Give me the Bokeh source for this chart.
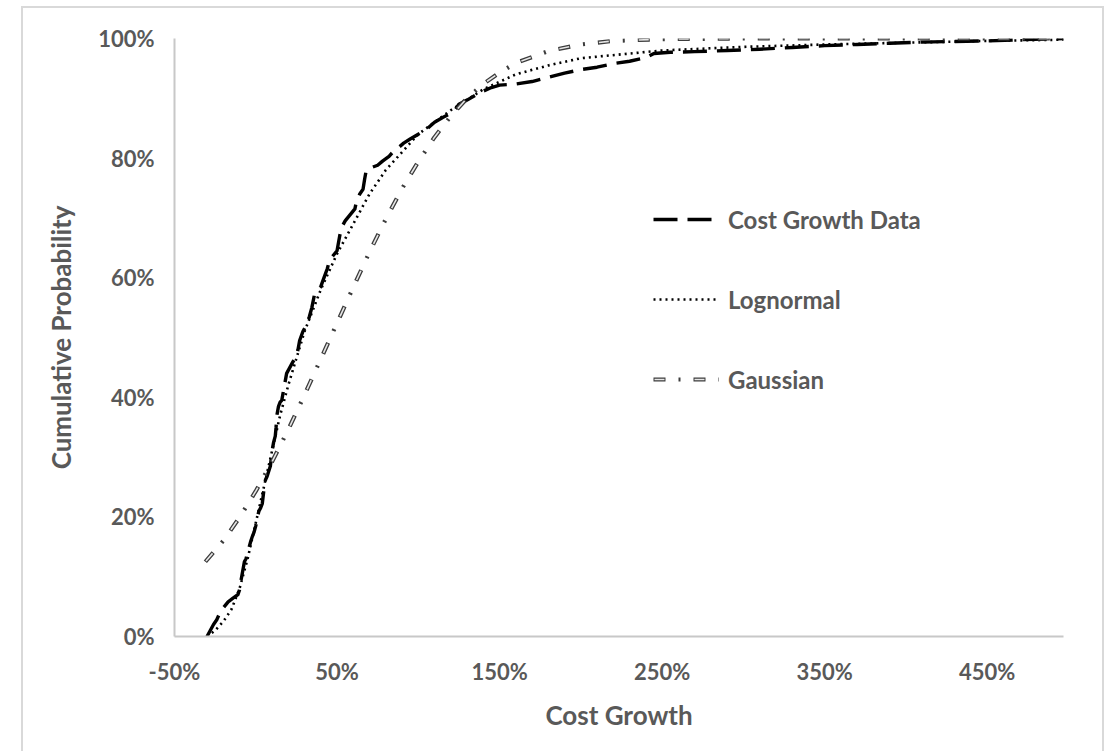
from bokeh.plotting import figure
from bokeh.models import Legend, LegendItem, FixedTicker, NumeralTickFormatter, Range1d
from bokeh.embed import file_html
from bokeh.resources import INLINE

# ---- data ----
data_x = [-0.30, -0.28, -0.26, -0.24, -0.22, -0.20, -0.17, -0.14, -0.11, -0.10, -0.09, -0.08,
          -0.07, -0.06, -0.05, -0.04, -0.03, -0.02, -0.01, 0.00, 0.01, 0.02, 0.03, 0.04, 0.05,
          0.06, 0.07, 0.09, 0.10, 0.11, 0.12, 0.125, 0.13, 0.14, 0.15, 0.16, 0.17, 0.18, 0.19,
          0.21, 0.23, 0.25, 0.26, 0.27, 0.29, 0.31, 0.33, 0.345, 0.36, 0.38, 0.40, 0.42, 0.44,
          0.45, 0.47, 0.50, 0.51, 0.52, 0.53, 0.55, 0.58, 0.61, 0.62, 0.64, 0.66, 0.67, 0.68,
          0.72, 0.75, 0.78, 0.82, 0.85, 0.88, 0.91, 0.95, 1.00, 1.05, 1.10, 1.15, 1.18, 1.22,
          1.25, 1.30, 1.35, 1.40, 1.45, 1.50, 1.60, 1.70, 1.80, 1.90, 2.00, 2.10, 2.20, 2.30,
          2.40, 2.45, 2.55, 2.70, 2.90, 3.10, 3.30, 3.50, 3.70, 3.90, 4.10, 4.30, 4.50, 4.70, 4.97]
data_y = [0.000, 0.010, 0.020, 0.028, 0.040, 0.048, 0.058, 0.064, 0.070, 0.078, 0.095, 0.110,
          0.125, 0.130, 0.140, 0.150, 0.160, 0.168, 0.175, 0.185, 0.200, 0.210, 0.215, 0.222, 0.245,
          0.262, 0.268, 0.285, 0.310, 0.325, 0.335, 0.350, 0.370, 0.385, 0.392, 0.395, 0.410, 0.425, 0.440,
          0.450, 0.460, 0.468, 0.480, 0.495, 0.510, 0.520, 0.535, 0.550, 0.570, 0.578, 0.585, 0.600, 0.615,
          0.625, 0.635, 0.645, 0.660, 0.675, 0.685, 0.695, 0.705, 0.715, 0.728, 0.740, 0.748, 0.765, 0.780,
          0.785, 0.788, 0.795, 0.803, 0.812, 0.818, 0.825, 0.832, 0.840, 0.848, 0.860, 0.868, 0.872, 0.878,
          0.890, 0.897, 0.905, 0.912, 0.918, 0.922, 0.924, 0.928, 0.935, 0.942, 0.948, 0.952, 0.958, 0.962,
          0.968, 0.975, 0.977, 0.978, 0.980, 0.982, 0.985, 0.988, 0.990, 0.992, 0.994, 0.995, 0.996, 0.998, 1.000]

logn_x = [-0.30, -0.25, -0.20, -0.15, -0.10, -0.05, 0.00, 0.05, 0.10, 0.15, 0.20, 0.30, 0.40,
          0.50, 0.60, 0.70, 0.80, 0.90, 1.00, 1.20, 1.40, 1.60, 1.80, 2.00, 2.50, 3.00, 3.50,
          4.00, 4.50, 4.97]
logn_y = [0.000, 0.010, 0.025, 0.045, 0.080, 0.130, 0.190, 0.250, 0.310, 0.370, 0.420, 0.510, 0.580,
          0.640, 0.690, 0.740, 0.780, 0.810, 0.840, 0.880, 0.915, 0.940, 0.955, 0.967, 0.980, 0.986, 0.990,
          0.993, 0.996, 0.998]

gauss_x = [-0.31, -0.20, -0.10, 0.00, 0.10, 0.20, 0.30, 0.40, 0.50, 0.60, 0.70, 0.80, 0.90, 1.00,
           1.10, 1.20, 1.30, 1.40, 1.50, 1.60, 1.80, 2.00, 2.20, 2.50, 3.00, 3.50, 4.00, 4.50, 4.97]
gauss_y = [0.125, 0.160, 0.199, 0.243, 0.292, 0.346, 0.404, 0.464, 0.524, 0.584, 0.643, 0.698, 0.749, 0.794,
           0.835, 0.870, 0.900, 0.924, 0.943, 0.959, 0.979, 0.990, 0.996, 0.999, 1.000, 1.000, 1.000, 1.000, 1.000]

x_ticks = [-0.5, 0.5, 1.5, 2.5, 3.5, 4.5]
y_ticks = [0.0, 0.2, 0.4, 0.6, 0.8, 1.0]
series_names = ["Cost Growth Data", "Lognormal", "Gaussian"]

FONT = "Lato"
TXT = "#595959"
EDGE = "2px solid #d9d9d9"

p = figure(width=1083, height=745, output_backend="svg", toolbar_location=None,
           x_range=Range1d(-0.5, 4.97), y_range=Range1d(0, 1.0),
           min_border_left=151, min_border_right=43, min_border_top=30, min_border_bottom=117,
           styles={"border-left": EDGE, "border-right": EDGE, "border-top": EDGE},
           margin=(6, 0, 0, 21))
p.grid.visible = False
p.outline_line_color = None
p.background_fill_color = "white"
p.border_fill_color = "white"

for ax in (p.xaxis[0], p.yaxis[0]):
    ax.axis_line_color = "#c8c8c8"
    ax.axis_line_width = 2
    ax.major_tick_line_color = None
    ax.minor_tick_line_color = None
    ax.major_label_text_font = FONT
    ax.major_label_text_font_style = "bold"
    ax.major_label_text_font_size = "22px"
    ax.major_label_text_color = TXT
    ax.axis_label_text_font = FONT
    ax.axis_label_text_font_style = "bold"
    ax.axis_label_text_font_size = "26px"
    ax.axis_label_text_color = TXT

p.xaxis.ticker = FixedTicker(ticks=x_ticks)
p.yaxis.ticker = FixedTicker(ticks=y_ticks)
p.xaxis.formatter = NumeralTickFormatter(format="0%")
p.yaxis.formatter = NumeralTickFormatter(format="0%")
p.xaxis.axis_label = "Cost Growth"
p.yaxis.axis_label = "Cumulative Probability"
p.xaxis.major_label_standoff = 15
p.yaxis.major_label_standoff = 14
p.xaxis.axis_label_standoff = 11
p.yaxis.axis_label_standoff = 18

r_data = p.line(data_x, data_y, line_color="black", line_width=3.4, line_dash="24 10", line_join="round")
r_logn = p.line(logn_x, logn_y, line_color="black", line_width=2.6, line_dash="2 4")
r_g1 = p.line(gauss_x, gauss_y, line_color="#3c3c3c", line_width=4.2, line_dash="12 13 2 13")
r_g2 = p.line(gauss_x, gauss_y, line_color="#e6e6e6", line_width=1.6, line_dash="10 30", line_dash_offset=-1)

legend = Legend(items=[LegendItem(label=series_names[0], renderers=[r_data]),
                       LegendItem(label=series_names[1], renderers=[r_logn]),
                       LegendItem(label=series_names[2], renderers=[r_g1, r_g2])],
                location=(479, 242), glyph_width=66, glyph_height=30, label_height=30,
                spacing=50, label_standoff=9, padding=0, margin=0,
                border_line_color=None, background_fill_alpha=0,
                label_text_font=FONT, label_text_font_style="bold",
                label_text_font_size="24px", label_text_color=TXT)
p.add_layout(legend, "center")

open("out.html", "w").write(file_html(p, INLINE))
